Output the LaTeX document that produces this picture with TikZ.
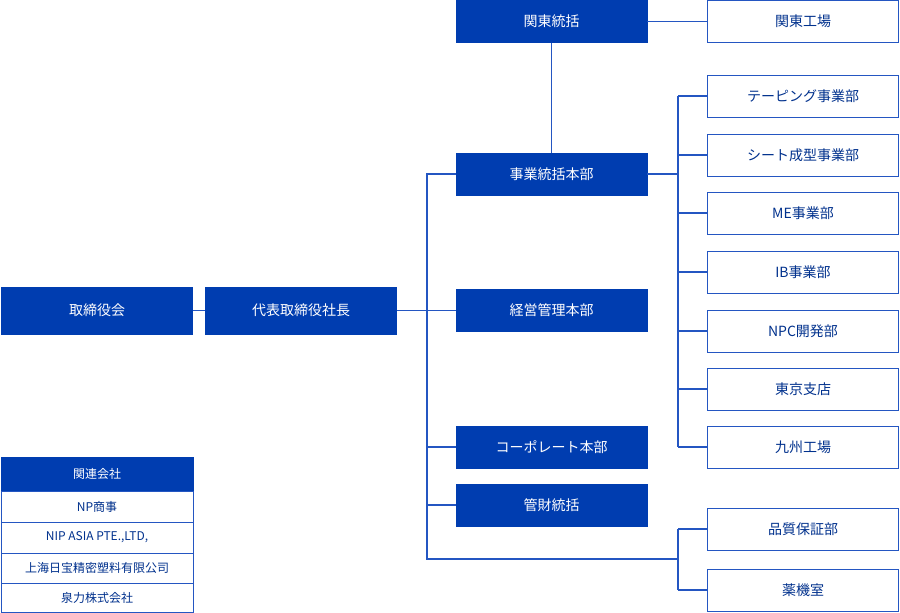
\documentclass[tikz,border=0pt]{standalone}
\usepackage{fontspec}
\setmainfont{Noto Sans CJK JP}
\begin{document}
\begin{tikzpicture}[x=1pt,y=-1pt,
  bl/.style={draw=nb,fill=nb,text=white,minimum width=191pt,minimum height=42pt,inner sep=0pt,font=\fontsize{14}{16}\selectfont},
  wb/.style={draw=nl,fill=white,text=nb!80!black,line width=1pt,minimum width=191pt,minimum height=42pt,inner sep=0pt,font=\fontsize{14}{16}\selectfont},
  tb/.style={draw=nl,fill=white,text=nb!80!black,line width=0.8pt,minimum width=192pt,inner sep=0pt,font=\fontsize{12}{14}\selectfont},
  ln/.style={draw=nl,line width=1.2pt}]
\definecolor{nb}{HTML}{003DB0}
\definecolor{nl}{HTML}{2456C2}
\useasboundingbox (0,0) rectangle (900,613);
\node[bl,minimum height=47pt] (bod) at (97,310.5) {取締役会};
\node[bl,minimum height=47pt] (pres) at (301,310.5) {代表取締役社長};
\node[bl] (kanto) at (551.5,21.5) {関東統括};
\node[bl] (jigyo) at (551.5,174) {事業統括本部};
\node[bl] (keiei) at (551.5,310.5) {経営管理本部};
\node[bl] (corp) at (551.5,447) {コーポレート本部};
\node[bl] (kanzai) at (551.5,505) {管財統括};
\node[wb] (kf) at (803,21.5) {関東工場};
\node[wb] (tp) at (803,96) {テーピング事業部};
\node[wb] (st) at (803,155) {シート成型事業部};
\node[wb] (me) at (803,213) {ME事業部};
\node[wb] (ib) at (803,272) {IB事業部};
\node[wb] (npc) at (803,331) {NPC開発部};
\node[wb] (tk) at (803,389) {東京支店};
\node[wb] (kyu) at (803,447) {九州工場};
\node[wb] (qa) at (803,529) {品質保証部};
\node[wb] (yk) at (803,590) {薬機室};
% related companies
\node[bl,minimum width=192pt,minimum height=33pt,font=\fontsize{12}{14}\selectfont] (rh) at (97,473.5) {関連会社};
\node[tb,minimum height=31pt] (r1) at (97,506.5) {NP商事};
\node[tb,minimum height=31pt] (r2) at (97,537.5) {NIP ASIA PTE.,LTD,};
\node[tb,minimum height=30pt] (r3) at (97,568) {上海日宝精密塑料有限公司};
\node[tb,minimum height=29pt] (r4) at (97,597.5) {泉力株式会社};
% connectors
\coordinate (a1) at (427,174);
\coordinate (a2) at (427,559);
\coordinate (a3) at (678,559);
\coordinate (b0) at (678,174);
\coordinate (b1) at (678,96);
\coordinate (b2) at (678,447);
\coordinate (c1) at (678,529);
\coordinate (c2) at (678,590);
\draw[ln] (bod) -- (pres);
\draw[ln] (pres) -- (keiei);
\draw[ln] (jigyo.west) -- (a1) -- (a2) -- (a3);
\draw[ln] (corp.west) -| (a1);
\draw[ln] (kanzai.west) -| (a1);
\draw[ln] (kanto) -- (jigyo);
\draw[ln] (kanto) -- (kf);
\draw[ln] (jigyo) -- (b0);
\draw[ln] (b1) -- (b2);
\foreach \n in {tp,st,me,ib,npc,tk,kyu} \draw[ln] (\n.west) -- (\n.west -| b1);
\draw[ln] (c1) -- (c2);
\draw[ln] (qa.west) -- (c1);
\draw[ln] (yk.west) -- (c2);
\end{tikzpicture}
\end{document}
